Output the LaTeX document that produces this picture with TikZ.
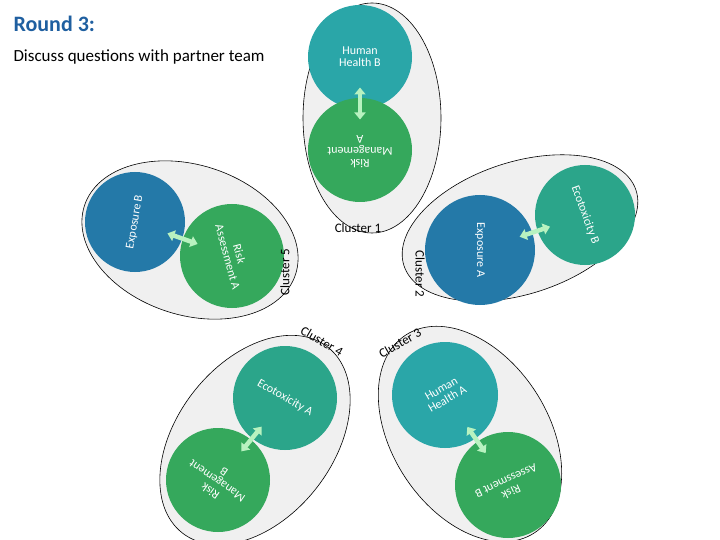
\documentclass[tikz,border=0pt]{standalone}
\usepackage{fontspec}
\setmainfont{Carlito}
\usetikzlibrary{shapes.geometric,arrows.meta,calc}
\definecolor{hh}{HTML}{2AA6A8}
\definecolor{rg}{HTML}{35A85C}
\definecolor{eco}{HTML}{2BA58A}
\definecolor{ex}{HTML}{2479A8}
\definecolor{tit}{HTML}{1F5FA0}
\definecolor{arr}{HTML}{B8F2C0}
\begin{document}
\begin{tikzpicture}[x=1pt,y=-1pt,
  clu/.style={ellipse,draw=black,line width=0.6pt,fill=gray!12,inner sep=0pt},
  bub/.style={circle,inner sep=0pt,text=white,font=\fontsize{12}{12}\selectfont,align=center},
  lab/.style={font=\fontsize{13}{14}\selectfont}]
\useasboundingbox (0,0) rectangle (720,540);
\node[anchor=west,text=tit,font=\bfseries\fontsize{22}{24}\selectfont] (t) at (10,24) {Round 3:};
\node[anchor=west,font=\fontsize{17}{19}\selectfont] (s) at (10,57) {Discuss questions with partner team};
% ellipses
\node[clu,minimum width=230pt,minimum height=138pt,rotate=90] (e1) at (372,118) {};
\node[clu,minimum width=244pt,minimum height=132pt,rotate=18] (e2) at (520,228) {};
\node[clu,minimum width=236pt,minimum height=156pt,rotate=-57] (e3) at (470,434) {};
\node[clu,minimum width=236pt,minimum height=156pt,rotate=52] (e4) at (255,440) {};
\node[clu,minimum width=222pt,minimum height=150pt,rotate=-18] (e5) at (190,240) {};
% circles
\node[bub,fill=hh,minimum size=104pt] (hhb) at (360,57) {Human\\Health B};
\node[bub,fill=rg,minimum size=104pt] (rma) at (360,150) {\rotatebox{180}{\begin{tabular}{@{}c@{}}Risk\\Management\\A\end{tabular}}};
\node[bub,fill=eco,minimum size=100pt] (ecb) at (585,215) {\rotatebox{-70}{Ecotoxicity B}};
\node[bub,fill=ex,minimum size=110pt] (exa) at (480,250) {\rotatebox{-90}{Exposure A}};
\node[bub,fill=hh,minimum size=106pt] (hha) at (445,395) {\rotatebox{30}{\begin{tabular}{@{}c@{}}Human\\Health A\end{tabular}}};
\node[bub,fill=rg,minimum size=106pt] (rab) at (508,485) {\rotatebox{205}{\begin{tabular}{@{}c@{}}Risk\\Assessment B\end{tabular}}};
\node[bub,fill=eco,minimum size=104pt] (eca) at (285,398) {\rotatebox{-30}{Ecotoxicity A}};
\node[bub,fill=rg,minimum size=104pt] (rmb) at (218,480) {\rotatebox{145}{\begin{tabular}{@{}c@{}}Risk\\Management\\B\end{tabular}}};
\node[bub,fill=ex,minimum size=100pt] (exb) at (135,222) {\rotatebox{80}{Exposure B}};
\node[bub,fill=rg,minimum size=104pt] (raa) at (232,256) {\rotatebox{-75}{\begin{tabular}{@{}c@{}}Risk\\Assessment A\end{tabular}}};
% arrows
\foreach \a/\b in {hhb/rma,exa/ecb,hha/rab,eca/rmb,exb/raa}{
  \path (\a) -- (\b) coordinate[pos=.5] (m\a);
  \draw[line width=4.5pt,arr,{Triangle[length=7pt,width=11pt]}-{Triangle[length=7pt,width=11pt]}]
    ($(m\a)!16pt!(\a)$) -- ($(m\a)!16pt!(\b)$);
}
% labels
\node[lab] (l1) at (358,228) {Cluster 1};
\node[lab,rotate=-90] (l2) at (420,274) {Cluster 2};
\node[lab,rotate=30] (l3) at (400,343) {Cluster 3};
\node[lab,rotate=-30] (l4) at (322,341) {Cluster 4};
\node[lab,rotate=90] (l5) at (285,272) {Cluster 5};
\end{tikzpicture}
\end{document}
